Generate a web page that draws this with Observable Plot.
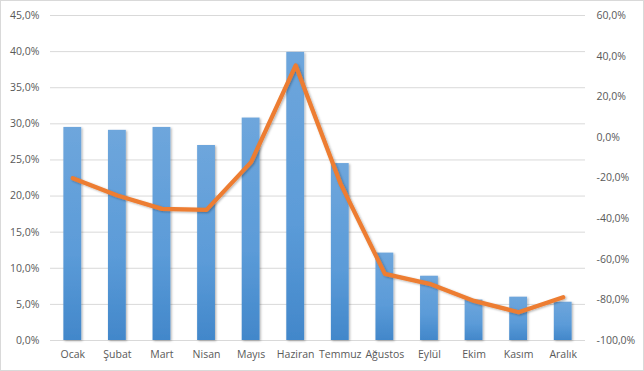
<!DOCTYPE html>
<html><head><meta charset="utf-8">
<script src="https://cdn.jsdelivr.net/npm/d3@7"></script>
<script src="https://cdn.jsdelivr.net/npm/@observablehq/plot@0.6"></script>
<style>
body{margin:0;background:#fff}
svg{display:block;outline:1px solid #d9d9d9;outline-offset:-1px}
</style>
</head><body><div id="chart"></div>
<script>
const months = ["Ocak","Şubat","Mart","Nisan","Mayıs","Haziran","Temmuz","Ağustos","Eylül","Ekim","Kasım","Aralık"];
const barValues = [29.5, 29.1, 29.5, 27.0, 30.8, 39.9, 24.5, 12.1, 8.9, 5.6, 6.0, 5.3];
const lineValues = [-20.1, -28.6, -35.2, -35.7, -12.2, 35.4, -22.5, -67.2, -72.1, -80.5, -86.1, -78.7];
const leftTicks = [0, 5, 10, 15, 20, 25, 30, 35, 40, 45];
const rightTicks = [-100, -80, -60, -40, -20, 0, 20, 40, 60];

const L_MIN = 0, L_MAX = 45, R_MIN = -100, R_MAX = 60;
const toLeft = v => (v - R_MIN) / (R_MAX - R_MIN) * (L_MAX - L_MIN) + L_MIN;
const toRight = v => R_MIN + (v - L_MIN) / (L_MAX - L_MIN) * (R_MAX - R_MIN);
const fmt = v => (Math.abs(v) < 1e-9 ? 0 : v).toFixed(1).replace(".", ",") + "%";

const data = months.map((m, i) => ({month: m, bar: barValues[i], line: toLeft(lineValues[i])}));

const chart = Plot.plot({
  width: 644, height: 371,
  marginLeft: 50, marginRight: 59, marginTop: 15, marginBottom: 31,
  style: {fontFamily: "'Open Sans', sans-serif", fontSize: "10.5px", color: "#595959", background: "#fff"},
  x: {domain: months, paddingInner: 0.6, paddingOuter: 0.3, round: false, label: null},
  y: {domain: [L_MIN, L_MAX], label: null},
  marks: [
    Plot.gridY(leftTicks, {stroke: "#d9d9d9", strokeOpacity: 1}),
    Plot.axisY(leftTicks, {anchor: "left", tickSize: 0, tickPadding: 11, tickFormat: fmt, label: null}),
    Plot.axisY(rightTicks.map(toLeft), {anchor: "right", tickSize: 0, tickPadding: 11, tickFormat: v => fmt(toRight(v)), label: null}),
    Plot.axisX({tickSize: 0, tickPadding: 10, label: null}),
    Plot.barY(data, {x: "month", y: "bar", fill: "url(#barGrad)"}),
    Plot.lineY(data, {x: "month", y: "line", stroke: "#ED7D31", strokeWidth: 4.3, strokeLinejoin: "round", strokeLinecap: "round"})
  ]
});

const svg = d3.select(chart);
const defs = svg.insert("defs", ":first-child");
const grad = defs.append("linearGradient").attr("id", "barGrad").attr("x1", 0).attr("y1", 0).attr("x2", 0).attr("y2", 1);
grad.append("stop").attr("offset", "0%").attr("stop-color", "#6EA6DC");
grad.append("stop").attr("offset", "60%").attr("stop-color", "#5B9BD8");
grad.append("stop").attr("offset", "100%").attr("stop-color", "#4287CA");
const f = defs.append("filter").attr("id", "shadow").attr("x", "-20%").attr("y", "-5%").attr("width", "150%").attr("height", "115%");
f.append("feDropShadow").attr("dx", 1.2).attr("dy", 1).attr("stdDeviation", 1).attr("flood-color", "#000").attr("flood-opacity", 0.3);
svg.select('g[aria-label="bar"]').attr("filter", "url(#shadow)");
svg.select('g[aria-label="line"]').attr("filter", "url(#shadow)");

document.getElementById("chart").appendChild(chart);
</script>
</body></html>
